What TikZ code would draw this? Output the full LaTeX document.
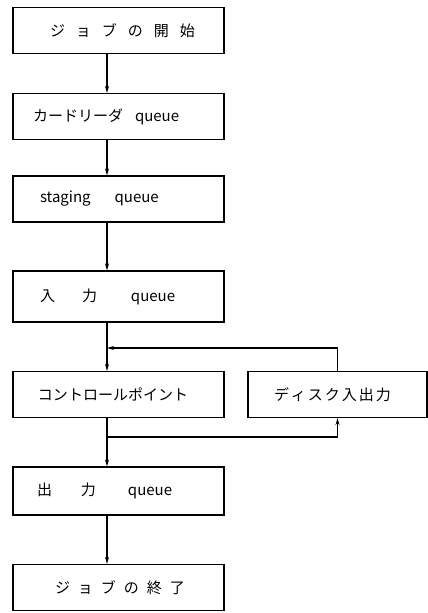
\documentclass[tikz,border=0pt]{standalone}
\usepackage{fontspec}
\setmainfont{Noto Sans CJK JP}
\usetikzlibrary{arrows.meta,calc}
\begin{document}
\begin{tikzpicture}[x=1pt,y=-1pt,
  box/.style={draw, line width=1.1pt, minimum height=46pt, text width=195pt, inner xsep=8pt, align=left, font=\fontsize{15pt}{17pt}\selectfont},
  dbox/.style={draw, line width=1.1pt, minimum height=46pt, text width=163pt, inner xsep=8pt, align=left, font=\fontsize{15pt}{17pt}\selectfont},
  link/.style={line width=1.1pt, -{Stealth[length=7pt,width=4pt]}},
  wire/.style={line width=1.1pt}]
\useasboundingbox (0,0) rectangle (428,613);
\node[box] (b1) at (118.5,30.5) {\hspace*{29pt}ジ\hspace{11pt}ョ\hspace{11pt}ブ\hspace{11pt}の\hspace{11pt}開\hspace{11pt}始};
\node[box] (b2) at (118.5,116.5) {\hspace*{12pt}カードリーダ\hspace{12pt}queue};
\node[box] (b3) at (118.5,199) {\hspace*{19pt}staging\hspace{24pt}queue};
\node[box, minimum height=51pt] (b4) at (118.5,296.5) {\hspace*{19pt}入\hspace{27pt}力\hspace{34pt}queue};
\node[box] (b5) at (118.5,394.5) {\hspace*{17pt}コントロールポイント};
\node[dbox] (dk) at (337.5,394.5) {\hspace*{18pt}デ\hspace{2pt}ィ\hspace{2pt}ス\hspace{2pt}ク\hspace{2pt}入\hspace{2pt}出\hspace{2pt}力};
\node[box, minimum height=48pt] (b6) at (118.5,491) {\hspace*{16pt}出\hspace{29pt}力\hspace{32pt}queue};
\node[box] (b7) at (118.5,587.5) {\hspace*{34pt}ジ\hspace{8pt}ョ\hspace{8pt}ブ\hspace{8pt}の\hspace{8pt}終\hspace{8pt}了};
\coordinate (sp) at (107,0);
\coordinate (j1) at (107,348);
\coordinate (j2) at (107,437);
\draw[link] (b1.south -| sp) -- (b2.north -| sp);
\draw[link] (b2.south -| sp) -- (b3.north -| sp);
\draw[link] (b3.south -| sp) -- (b4.north -| sp);
\draw[link] (b4.south -| sp) -- (b5.north -| sp);
\draw[link] (b5.south -| sp) -- (b6.north -| sp);
\draw[link] (b6.south -| sp) -- (b7.north -| sp);
\draw[link] (dk.north) |- (j1);
\draw[link] (j2) -| (dk.south);
\end{tikzpicture}
\end{document}
